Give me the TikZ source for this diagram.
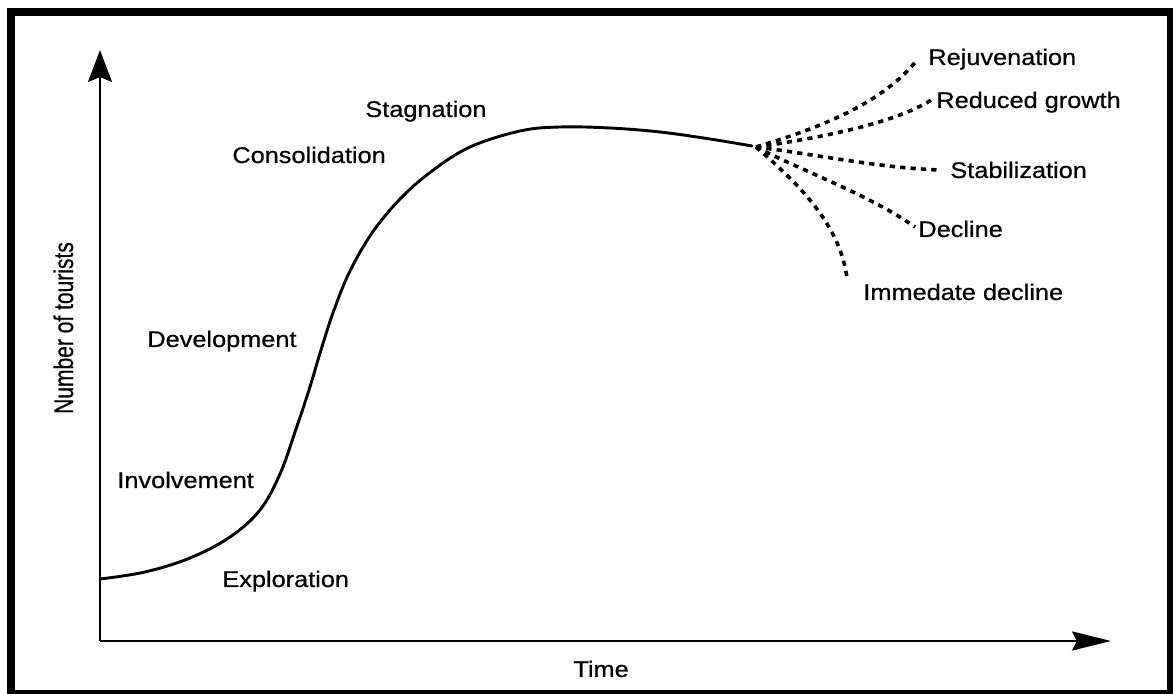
\documentclass[tikz,border=0pt]{standalone}
\usepackage{fontspec}
\setmainfont{Liberation Sans}
\newfontfamily\lblfont{Liberation Sans}[FakeBold=0.6]
\usetikzlibrary{arrows.meta}
\newcommand\widetext[1]{\scalebox{1.12}[1]{#1}}
\begin{document}
\begin{tikzpicture}[x=0.5pt,y=-0.5pt,
  lbl/.style={font=\fontsize{11.3}{13}\lblfont, inner sep=0pt, anchor=base west},
  curve/.style={line width=1.45pt, line cap=round, line join=round},
  branch/.style={line width=1.8pt, dash pattern=on 2.6pt off 2.6pt},
  axis/.style={line width=1.2pt}]
\useasboundingbox (0,0) rectangle (1173,694);
% heavy frame
\fill[black] (7,8) rectangle (1173,694);
\fill[white] (15,16) rectangle (1167,690);

% axes
\coordinate (origin) at (100,641);
\coordinate (ytip) at (100,50);
\coordinate (xtip) at (1111,641);
\draw[axis, -{Stealth[length=16pt,width=12pt,inset=2.5pt]}] (origin) -- (ytip);
\draw[axis, -{Stealth[length=19.5pt,width=9.5pt,inset=2.5pt]}] (origin) -- (xtip);

% life-cycle curve
\draw[curve] plot[smooth, tension=0.6] coordinates {
  (100,579) (145,572) (190,558) (230,537) (260,510) (280,474) (295,432)
  (309,390) (321,350) (334,310) (350,271) (372,233) (400,199) (432,171)
  (470,147) (520,131) (560,127) (610,128) (660,132) (710,139) (752,146)};

% possible futures
\coordinate (fork) at (756,147);
\coordinate (eRej) at (917,60);
\coordinate (eRed) at (933,99);
\coordinate (eSta) at (940,170);
\coordinate (eDec) at (915,227);
\coordinate (eImm) at (847,278);
\draw[branch] (fork) .. controls (830,125) and (885,100) .. (eRej);
\draw[branch] (fork) .. controls (840,135) and (900,120) .. (eRed);
\draw[branch] (fork) .. controls (820,155) and (880,168) .. (eSta);
\draw[branch] (fork) .. controls (800,170) and (870,195) .. (eDec);
\draw[branch] (fork) .. controls (800,185) and (840,225) .. (eImm);

% stage labels
\node[lbl] (stag) at (365,117) {\widetext{Stagnation}};
\node[lbl] (cons) at (232,163) {\widetext{Consolidation}};
\node[lbl] (dev)  at (147,347) {\widetext{Development}};
\node[lbl] (inv)  at (117,488) {\widetext{Involvement}};
\node[lbl] (exp)  at (222,587) {\widetext{Exploration}};

% outcome labels
\node[lbl] (rej) at (928,65)  {\widetext{Rejuvenation}};
\node[lbl] (red) at (936,108) {\widetext{Reduced growth}};
\node[lbl] (sta) at (950,178) {\widetext{Stabilization}};
\node[lbl] (dec) at (918,237) {\widetext{Decline}};
\node[lbl] (imm) at (863,300) {\widetext{Immedate decline}};

% axis titles
\node[lbl] (time) at (573,677) {\widetext{Time}};
\node[font=\fontsize{11.3}{13}\lblfont, inner sep=0pt, rotate=90, anchor=base] (ylab) at (73,328)
  {\scalebox{0.93}[1.2]{Number of tourists}};
\end{tikzpicture}
\end{document}
